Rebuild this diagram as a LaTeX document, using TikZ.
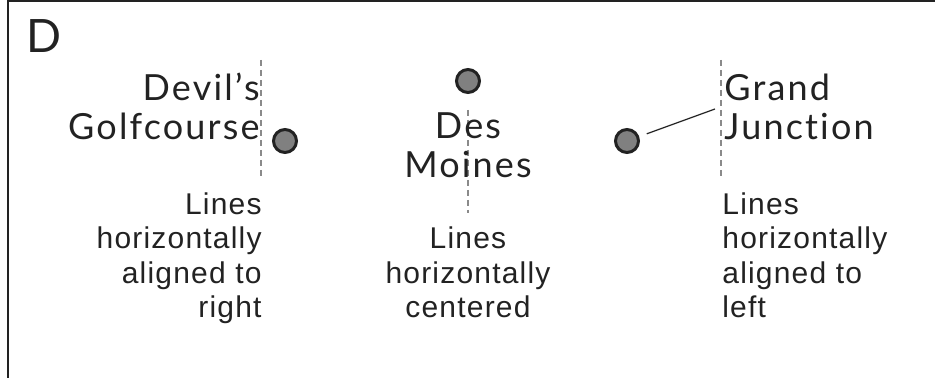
\documentclass[tikz,border=0pt]{standalone}
\usepackage{fontspec}
\setmainfont{Liberation Sans}
\newfontfamily\stationfont[LetterSpace=6,Ligatures={NoCommon,NoRare,NoDiscretionary}]{Lato}
\newfontfamily\notefont[LetterSpace=4]{Liberation Sans}
\definecolor{inkgray}{HTML}{222222}
\definecolor{dotfill}{HTML}{808080}
\definecolor{guidegray}{HTML}{8A8A8A}
\begin{document}
\begin{tikzpicture}[x=0.5pt,y=-0.5pt,
    station/.style={font=\stationfont\fontsize{18}{19.5}\selectfont, text=inkgray, inner sep=0pt},
    note/.style={font=\notefont\fontsize{15}{17.25}\selectfont, text=inkgray, inner sep=0pt},
    stop/.style={circle, draw=inkgray, fill=dotfill, line width=1.5pt, minimum size=11.5pt, inner sep=0pt},
    guide/.style={guidegray, line width=0.6pt, dash pattern=on 3pt off 2pt}]
  \useasboundingbox (0,0) rectangle (935,378);

  % Frame (top and left only)
  \draw[inkgray,line width=1pt] (935,1) -- (8,1) -- (8,378);
  \node[font=\stationfont\fontsize{23}{23}\selectfont, text=inkgray, anchor=base west, inner sep=0pt] (panel) at (26,53) {D};

  % Right-aligned lines
  \draw[guide] (261,60) -- (261,178);
  \node[stop] (dgdot) at (285,141) {};
  \node[station, align=right, anchor=base east] (dgname) at (260,140) {Devil’s\\Golfcourse};
  \node[note, align=right, anchor=base east] (dgnote) at (262,318) {Lines\\horizontally\\aligned to\\right};

  % Centered lines
  \draw[guide] (468,110) -- (468,213);
  \node[stop] (dmdot) at (468,81) {};
  \node[station, align=center, anchor=base] (dmname) at (468,178) {Des\\Moines};
  \node[note, align=center, anchor=base] (dmnote) at (468,318) {Lines\\horizontally\\centered};

  % Left-aligned lines
  \draw[guide] (721,60) -- (721,178);
  \node[stop] (gjdot) at (627,141) {};
  \node[station, align=left, anchor=base west] (gjname) at (724,140) {Grand\\Junction};
  \node[note, align=left, anchor=base west] (gjnote) at (722,318) {Lines\\horizontally\\aligned to\\left};
  \coordinate (gjtip) at (715,109);
  \draw[inkgray,line width=0.6pt,shorten <=4pt] (gjdot) -- (gjtip);
\end{tikzpicture}
\end{document}
